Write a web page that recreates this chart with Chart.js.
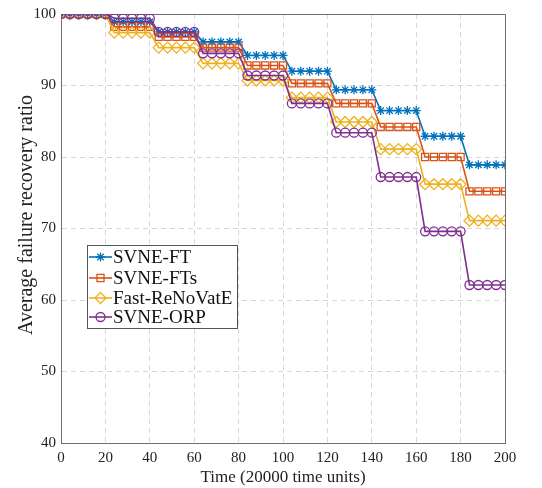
<!DOCTYPE html>
<html lang="en">
<head>
<meta charset="UTF-8">
<title>Average failure recovery ratio</title>
<script src="https://cdn.jsdelivr.net/npm/chart.js"></script>
<style>
  html, body { margin: 0; padding: 0; background: #fff; }
</style>
</head>
<body>
<canvas id="recoveryChart" width="542" height="488"></canvas>
<script>
// time axis (x 20000 time units)
const timeSteps = [0, 4, 8, 12, 16, 20, 24, 28, 32, 36, 40, 44, 48, 52, 56, 60, 64, 68, 72, 76, 80,
  84, 88, 92, 96, 100, 104, 108, 112, 116, 120, 124, 128, 132, 136, 140, 144, 148, 152, 156, 160,
  164, 168, 172, 176, 180, 184, 188, 192, 196, 200];

const svneFT = [100, 100, 100, 100, 100, 100, 98.9, 98.9, 98.9, 98.9, 98.9, 97.5, 97.5, 97.5, 97.5, 97.5,
  96.1, 96.1, 96.1, 96.1, 96.1, 94.2, 94.2, 94.2, 94.2, 94.2, 92.0, 92.0, 92.0, 92.0, 92.0,
  89.4, 89.4, 89.4, 89.4, 89.4, 86.5, 86.5, 86.5, 86.5, 86.5, 82.9, 82.9, 82.9, 82.9, 82.9,
  78.9, 78.9, 78.9, 78.9, 78.9];
const svneFTs = [100, 100, 100, 100, 100, 100, 98.2, 98.2, 98.2, 98.2, 98.2, 96.8, 96.8, 96.8, 96.8, 96.8,
  95.3, 95.3, 95.3, 95.3, 95.3, 92.8, 92.8, 92.8, 92.8, 92.8, 90.3, 90.3, 90.3, 90.3, 90.3,
  87.5, 87.5, 87.5, 87.5, 87.5, 84.2, 84.2, 84.2, 84.2, 84.2, 80.0, 80.0, 80.0, 80.0, 80.0,
  75.2, 75.2, 75.2, 75.2, 75.2];
const fastReNoVatE = [100, 100, 100, 100, 100, 100, 97.4, 97.4, 97.4, 97.4, 97.4, 95.3, 95.3, 95.3, 95.3, 95.3,
  93.1, 93.1, 93.1, 93.1, 93.1, 90.7, 90.7, 90.7, 90.7, 90.7, 88.3, 88.3, 88.3, 88.3, 88.3,
  84.9, 84.9, 84.9, 84.9, 84.9, 81.1, 81.1, 81.1, 81.1, 81.1, 76.2, 76.2, 76.2, 76.2, 76.2,
  71.1, 71.1, 71.1, 71.1, 71.1];
const svneORP = [100, 100, 100, 100, 100, 100, 99.4, 99.4, 99.4, 99.4, 99.4, 97.5, 97.5, 97.5, 97.5, 97.5,
  94.5, 94.5, 94.5, 94.5, 94.5, 91.4, 91.4, 91.4, 91.4, 91.4, 87.5, 87.5, 87.5, 87.5, 87.5,
  83.4, 83.4, 83.4, 83.4, 83.4, 77.2, 77.2, 77.2, 77.2, 77.2, 69.6, 69.6, 69.6, 69.6, 69.6,
  62.1, 62.1, 62.1, 62.1, 62.1];

const seriesNames = ['SVNE-FT', 'SVNE-FTs', 'Fast-ReNoVatE', 'SVNE-ORP'];
const xTicks = [0, 20, 40, 60, 80, 100, 120, 140, 160, 180, 200];
const yTicks = [40, 50, 60, 70, 80, 90, 100];
const yTitle = 'Average failure recovery ratio';

const serif = "'Liberation Serif', 'DejaVu Serif', serif";

function toPoints(values) {
  return values.map((v, i) => ({ x: timeSteps[i], y: v }));
}

const styles = [
  { color: '#0072BD', pointStyle: 'star', radius: 4.5 },
  { color: '#D95319', pointStyle: 'rect', radius: 5 },
  { color: '#EDB120', pointStyle: 'rectRot', radius: 5.5 },
  { color: '#7E2F8E', pointStyle: 'circle', radius: 4.5 }
];
const allSeries = [svneFT, svneFTs, fastReNoVatE, svneORP];

const datasets = allSeries.map((vals, i) => ({
  label: seriesNames[i],
  data: toPoints(vals),
  borderColor: styles[i].color,
  backgroundColor: 'rgba(0,0,0,0)',
  pointBorderColor: styles[i].color,
  pointBackgroundColor: 'rgba(0,0,0,0)',
  pointStyle: styles[i].pointStyle,
  pointRadius: styles[i].radius,
  pointBorderWidth: 1.3,
  borderWidth: 1.6,
  tension: 0,
  order: 4 - i   // later series drawn on top, like matlab
}));

// top + right edges of the axes box, plus the y title (sits a bit above centre in the original)
const boxPlugin = {
  id: 'axesBox',
  beforeDatasetsDraw(chart) {
    const { ctx, chartArea: a } = chart;
    ctx.save();
    ctx.strokeStyle = '#6e6e6e';
    ctx.lineWidth = 1;
    ctx.beginPath();
    ctx.moveTo(a.left, a.top + 0.5);
    ctx.lineTo(a.right + 0.5, a.top + 0.5);
    ctx.lineTo(a.right + 0.5, a.bottom);
    ctx.stroke();

    ctx.translate(27, 215);
    ctx.rotate(-Math.PI / 2);
    ctx.fillStyle = '#222';
    ctx.font = '20px ' + serif;
    ctx.textAlign = 'center';
    ctx.textBaseline = 'middle';
    ctx.fillText(yTitle, 0, 0);
    ctx.restore();
  }
};

// legend drawn inside the plot, lower left
const legendPlugin = {
  id: 'insideLegend',
  afterDraw(chart) {
    const ctx = chart.ctx;
    const bx = 87, by = 245, bw = 150, bh = 83;
    ctx.save();
    ctx.fillStyle = '#fff';
    ctx.fillRect(bx, by, bw, bh);
    ctx.strokeStyle = '#555';
    ctx.lineWidth = 1;
    ctx.strokeRect(bx + 0.5, by + 0.5, bw, bh);
    const rows = [257, 278, 298, 317];
    chart.data.datasets.forEach((ds, i) => {
      const y = rows[i];
      ctx.strokeStyle = ds.borderColor;
      ctx.lineWidth = 1.6;
      ctx.beginPath();
      ctx.moveTo(89, y);
      ctx.lineTo(112, y);
      ctx.stroke();
      ctx.lineWidth = 1.3;
      ctx.fillStyle = 'rgba(0,0,0,0)';
      Chart.helpers.drawPoint(ctx, {
        pointStyle: ds.pointStyle,
        radius: ds.pointRadius,
        rotation: 0,
        borderWidth: 1.3
      }, 100.5, y);
      ctx.fillStyle = '#111';
      ctx.font = '19px ' + serif;
      ctx.textBaseline = 'middle';
      ctx.textAlign = 'left';
      ctx.fillText(ds.label, 113, y + 1);
    });
    ctx.restore();
  }
};

const ctx = document.getElementById('recoveryChart');
new Chart(ctx, {
  type: 'line',
  data: { datasets: datasets },
  options: {
    responsive: false,
    animation: false,
    layout: { padding: { top: 13, right: 37, left: 0, bottom: 0 } },
    plugins: {
      legend: { display: false },
      tooltip: { enabled: false }
    },
    scales: {
      x: {
        type: 'linear',
        min: 0,
        max: 200,
        afterBuildTicks: (scale) => { scale.ticks = xTicks.map(v => ({ value: v })); },
        afterFit: (scale) => { scale.height = 45; },
        ticks: { color: '#222', font: { family: serif, size: 15 }, padding: 6, maxRotation: 0 },
        grid: { color: '#d6d6d6', drawTicks: false },
        border: { display: true, color: '#6e6e6e', dash: [5, 4] },
        title: {
          display: true,
          text: 'Time (20000 time units)',
          color: '#222',
          font: { family: serif, size: 17 },
          padding: { top: 0, bottom: 0 }
        }
      },
      y: {
        min: 40,
        max: 100,
        afterBuildTicks: (scale) => { scale.ticks = yTicks.map(v => ({ value: v })); },
        afterFit: (scale) => { scale.width = 61; },
        ticks: { color: '#222', font: { family: serif, size: 15 }, padding: 5 },
        grid: { color: '#d6d6d6', drawTicks: false },
        border: { display: true, color: '#6e6e6e', dash: [5, 4] },
        title: { display: false }
      }
    }
  },
  plugins: [boxPlugin, legendPlugin]
});
</script>
</body>
</html>
